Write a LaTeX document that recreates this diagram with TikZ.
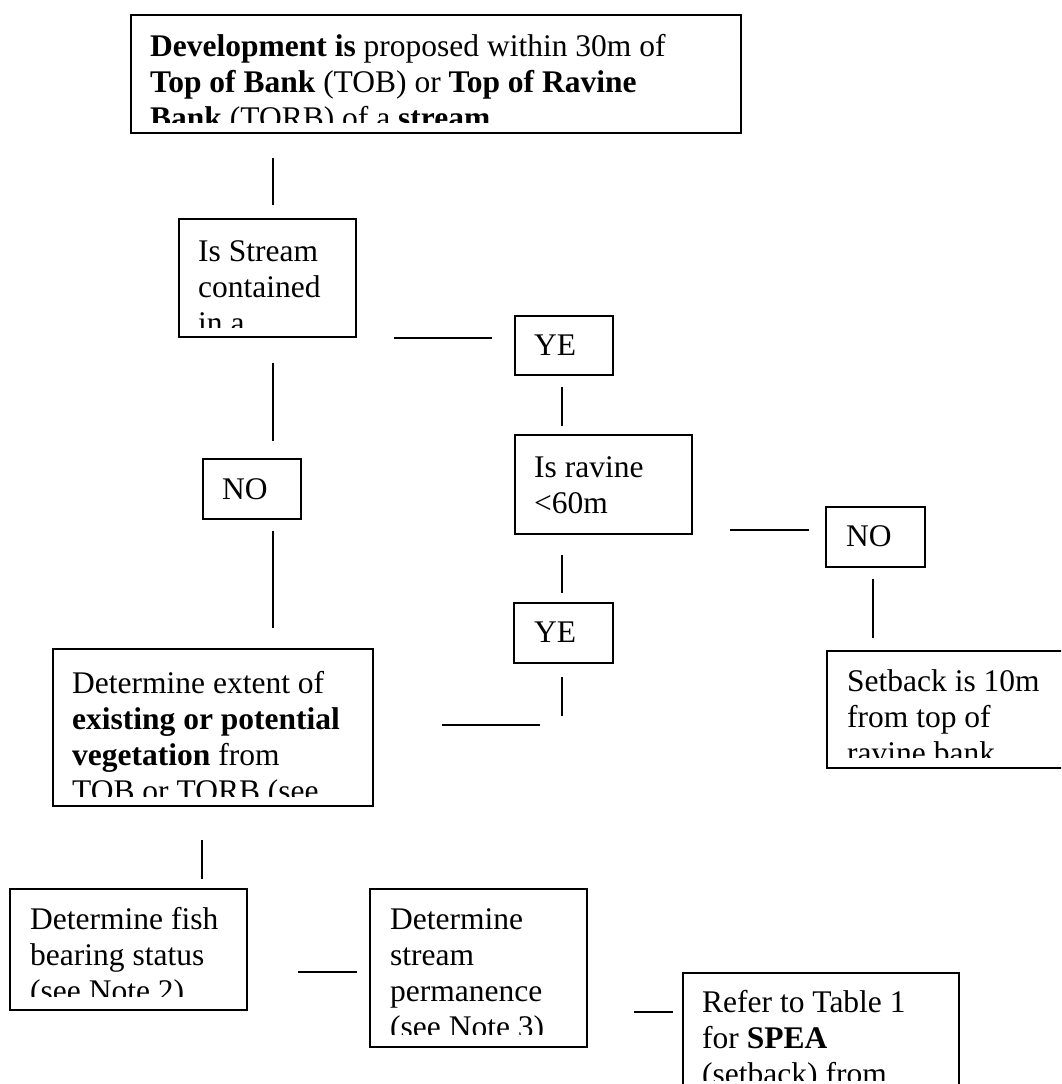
\documentclass[tikz,border=0pt]{standalone}
\usepackage{fontspec}
\setmainfont{Liberation Serif}
\begin{document}
\begin{tikzpicture}[x=1pt,y=-1pt,
  box/.style={draw=black,line width=1.8pt,inner sep=0pt,anchor=north west},
  txt/.style={inner sep=0pt,anchor=north west,align=left,font=\fontsize{31.5}{36}\selectfont},
  conn/.style={line width=1.5pt}]
\useasboundingbox (0,0) rectangle (1061,1084);
\clip (0,0) rectangle (1061,1084);
% ---------- boxes ----------
\node[box,minimum width=610,minimum height=118] (top) at (130,14) {};
\node[box,minimum width=177,minimum height=118] (stream) at (178,218) {};
\node[box,minimum width=98,minimum height=59] (ye1) at (514,315) {};
\node[box,minimum width=177,minimum height=99] (ravine) at (514,434) {};
\node[box,minimum width=98,minimum height=60] (noL) at (202,458) {};
\node[box,minimum width=99,minimum height=60] (noR) at (825,506) {};
\node[box,minimum width=99,minimum height=60] (ye2) at (513,602) {};
\node[box,minimum width=320,minimum height=157] (veg) at (52,648) {};
\node[box,minimum width=250,minimum height=117] (setback) at (826,650) {};
\node[box,minimum width=237,minimum height=121] (fish) at (9,888) {};
\node[box,minimum width=217,minimum height=158] (perm) at (369,888) {};
\node[box,minimum width=276,minimum height=160] (refer) at (682,972) {};
% ---------- texts ----------
\begin{scope}
\clip (131,15) rectangle (739,122);
\node[txt] (toptxt) at (150,31) {\strut\textbf{Development is} proposed within 30m of\\\textbf{Top of Bank} (TOB) or \textbf{Top of Ravine}\\\textbf{Bank} (TORB) of a \textbf{stream}};
\end{scope}
\begin{scope}
\clip (179,219) rectangle (354,327);
\node[txt] (streamtxt) at (198,236) {\strut Is Stream\\contained\\in a};
\end{scope}
\node[txt] (ye1txt) at (534,330) {\strut YE};
\node[txt] (ravinetxt) at (534,452) {\strut Is ravine\\<60m};
\node[txt] (noLtxt) at (222,474) {\strut NO};
\node[txt] (noRtxt) at (846,521) {\strut NO};
\node[txt] (ye2txt) at (534,617) {\strut YE};
\begin{scope}
\clip (53,649) rectangle (371,796);
\node[txt] (vegtxt) at (72,668) {\strut Determine extent of\\\textbf{existing or potential}\\\textbf{vegetation} from\\TOB or TORB (see};
\end{scope}
\begin{scope}
\clip (827,651) rectangle (1061,757);
\node[txt] (setbacktxt) at (847,666) {\strut Setback is 10m\\from top of\\ravine bank};
\end{scope}
\begin{scope}
\clip (10,889) rectangle (245,996);
\node[txt] (fishtxt) at (30,904) {\strut Determine fish\\bearing status\\(see Note 2)};
\end{scope}
\begin{scope}
\clip (370,889) rectangle (585,1034);
\node[txt] (permtxt) at (390,904) {\strut Determine\\stream\\permanence\\(see Note 3)};
\end{scope}
\begin{scope}
\clip (683,973) rectangle (957,1080);
\node[txt] (refertxt) at (702,987) {\strut Refer to Table 1\\for \textbf{SPEA}\\(setback) from};
\end{scope}
% ---------- connectors ----------
\coordinate (c1a) at (273,158); \coordinate (c1b) at (273,205);
\coordinate (c2a) at (394,338); \coordinate (c2b) at (492,338);
\coordinate (c3a) at (562,387); \coordinate (c3b) at (562,426);
\coordinate (c4a) at (273,363); \coordinate (c4b) at (273,441);
\coordinate (c5a) at (273,531); \coordinate (c5b) at (273,628);
\coordinate (c6a) at (730,530); \coordinate (c6b) at (809,530);
\coordinate (c7a) at (562,555); \coordinate (c7b) at (562,593);
\coordinate (c8a) at (873,579); \coordinate (c8b) at (873,638);
\coordinate (c9a) at (562,677); \coordinate (c9b) at (562,716);
\coordinate (c10a) at (442,725); \coordinate (c10b) at (540,725);
\coordinate (c11a) at (202,840); \coordinate (c11b) at (202,879);
\coordinate (c12a) at (298,972); \coordinate (c12b) at (357,972);
\coordinate (c13a) at (634,1012); \coordinate (c13b) at (673,1012);
\foreach \n in {1,...,13} \draw[conn] (c\n a) -- (c\n b);
\end{tikzpicture}
\end{document}
